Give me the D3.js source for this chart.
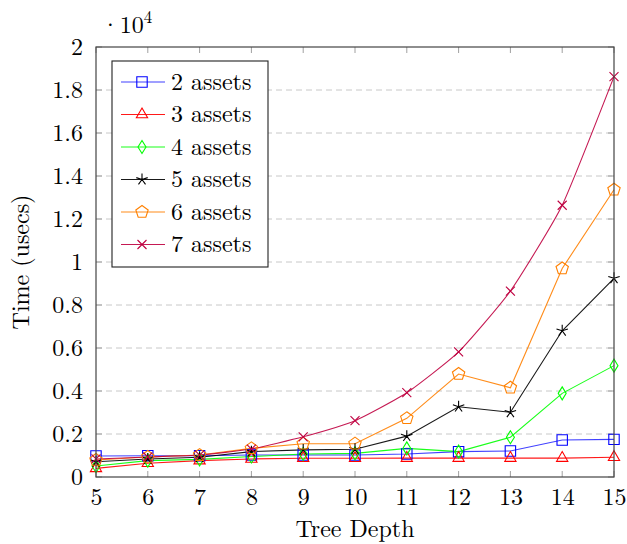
<!DOCTYPE html>
<html><head><meta charset="utf-8">
<script src="https://cdn.jsdelivr.net/npm/d3@7"></script>
<style>body{margin:0;background:#fff}</style>
</head><body><svg id="c" width="627" height="544"></svg>
<script>
const depths = [5,6,7,8,9,10,11,12,13,14,15];
const seriesNames = ["2 assets","3 assets","4 assets","5 assets","6 assets","7 assets"];
const assets2 = [980,990,990,1020,1020,1020,1070,1180,1210,1720,1750];
const assets3 = [400,640,760,840,870,870,880,880,880,880,920];
const assets4 = [510,760,820,950,1070,1100,1330,1180,1850,3890,5180];
const assets5 = [710,840,920,1180,1260,1290,1900,3270,3010,6800,9240];
const assets6 = [790,930,1020,1330,1550,1550,2730,4790,4150,9700,13360];
const assets7 = [840,930,1020,1300,1870,2620,3920,5820,8650,12640,18620];
const yTicks = [0,2000,4000,6000,8000,10000,12000,14000,16000,18000,20000];
const yTickLabels = ["0","0.2","0.4","0.6","0.8","1","1.2","1.4","1.6","1.8","2"];
const colors = ["#0000ff","#ff0000","#00ff00","#000000","#ff8000","#bf0040"];
const markers = ["square","triangle","diamond","star","pentagon","cross"];
const smooth = [false,false,false,false,false,true];
const allSeries = [assets2,assets3,assets4,assets5,assets6,assets7];

const FONT = '"Latin Modern Roman","Liberation Serif",serif';
const svg = d3.select("#c");
const L=96,R=614,T=47,B=477;
const x = d3.scaleLinear().domain([5,15]).range([L,R]);
const y = d3.scaleLinear().domain([0,20000]).range([B,T]);

// grid
svg.append("g").selectAll("line").data(yTicks.slice(1,-1)).join("line")
  .attr("x1",L).attr("x2",R).attr("y1",d=>y(d)).attr("y2",d=>y(d))
  .attr("stroke","#c8c8c8").attr("stroke-width",1).attr("stroke-dasharray","6,4");

// ticks inside (all four sides)
const tk = svg.append("g").attr("stroke","#a0a0a0").attr("stroke-width",1);
depths.forEach(d=>{
  tk.append("line").attr("x1",x(d)).attr("x2",x(d)).attr("y1",B).attr("y2",B-6);
  tk.append("line").attr("x1",x(d)).attr("x2",x(d)).attr("y1",T).attr("y2",T+6);
});
yTicks.forEach(d=>{
  tk.append("line").attr("x1",L).attr("x2",L+6).attr("y1",y(d)).attr("y2",y(d));
  tk.append("line").attr("x1",R).attr("x2",R-6).attr("y1",y(d)).attr("y2",y(d));
});

// axes labels via d3 axes (no lines)
const xAxis = svg.append("g").attr("transform",`translate(0,${B})`)
  .call(d3.axisBottom(x).tickValues(depths).tickFormat(d3.format("d")).tickSize(0).tickPadding(0));
xAxis.select(".domain").remove();
xAxis.selectAll("text").attr("dy",null).attr("y",28).style("font-family",FONT).style("font-size","24px").attr("fill","#000");
const yAxis = svg.append("g").attr("transform",`translate(${L},0)`)
  .call(d3.axisLeft(y).tickValues(yTicks).tickFormat((d,i)=>yTickLabels[i]).tickSize(0).tickPadding(0));
yAxis.select(".domain").remove();
yAxis.selectAll("text").attr("x",-13).attr("dy","0.33em").style("font-family",FONT).style("font-size","24px").attr("fill","#000");

// multiplier
const mult = svg.append("text").attr("x",101).attr("y",33).style("font-family",FONT).style("font-size","24px");
mult.append("tspan").text("·10");
mult.append("tspan").attr("dy",-10).style("font-size","17px").text("4");

svg.append("text").attr("x",(L+R)/2).attr("y",537).attr("text-anchor","middle").style("font-family",FONT).style("font-size","24px").text("Tree Depth");
svg.append("text").attr("transform",`translate(29,${(T+B)/2}) rotate(-90)`).attr("text-anchor","middle").style("font-family",FONT).style("font-size","24px").text("Time (usecs)");

function markerPath(type,cx,cy){
  const p = d3.path();
  if(type==="square"){ const s=5.2; p.rect(cx-s,cy-s,2*s,2*s); }
  else if(type==="triangle"){ const r=6.5; p.moveTo(cx,cy-r); p.lineTo(cx+r*0.866,cy+r*0.5); p.lineTo(cx-r*0.866,cy+r*0.5); p.closePath(); }
  else if(type==="diamond"){ p.moveTo(cx,cy-6.5); p.lineTo(cx+4,cy); p.lineTo(cx,cy+6.5); p.lineTo(cx-4,cy); p.closePath(); }
  else if(type==="star"){ const r=6; for(let k=0;k<5;k++){const a=-Math.PI/2+k*2*Math.PI/5; p.moveTo(cx,cy); p.lineTo(cx+r*Math.cos(a),cy+r*Math.sin(a));} }
  else if(type==="pentagon"){ const r=6.5; for(let k=0;k<5;k++){const a=-Math.PI/2+k*2*Math.PI/5; const px=cx+r*Math.cos(a),py=cy+r*Math.sin(a); if(k===0)p.moveTo(px,py); else p.lineTo(px,py);} p.closePath(); }
  else if(type==="cross"){ const s=4.5; p.moveTo(cx-s,cy-s); p.lineTo(cx+s,cy+s); p.moveTo(cx-s,cy+s); p.lineTo(cx+s,cy-s); }
  return p.toString();
}

const plot = svg.append("g");
allSeries.forEach((vals,si)=>{
  const line = d3.line().x((d,i)=>x(depths[i])).y(d=>y(d))
    .curve(smooth[si] ? d3.curveCardinal.tension(0.5) : d3.curveLinear);
  plot.append("path").attr("d",line(vals)).attr("fill","none").attr("stroke",colors[si]).attr("stroke-width",1.1).attr("stroke-opacity",si===0?0.75:0.9);
});
allSeries.forEach((vals,si)=>{
  plot.append("g").selectAll("path").data(vals).join("path")
    .attr("d",(d,i)=>markerPath(markers[si],x(depths[i]),y(d)))
    .attr("fill","none").attr("stroke",colors[si]).attr("stroke-width",1.1);
});

// frame
svg.append("rect").attr("x",L).attr("y",T).attr("width",R-L).attr("height",B-T)
  .attr("fill","none").attr("stroke","#444").attr("stroke-width",1.2);

// legend
const lg = svg.append("g");
lg.append("rect").attr("x",112).attr("y",61).attr("width",156).attr("height",206)
  .attr("fill","#fff").attr("stroke","#222").attr("stroke-width",1.1);
seriesNames.forEach((n,i)=>{
  const cy = 82 + i*32.5;
  lg.append("line").attr("x1",121).attr("x2",165).attr("y1",cy).attr("y2",cy).attr("stroke",colors[i]).attr("stroke-width",1.1).attr("stroke-opacity",i===0?0.75:0.9);
  lg.append("path").attr("d",markerPath(markers[i],142,cy)).attr("fill","none").attr("stroke",colors[i]).attr("stroke-width",1.1);
  lg.append("text").attr("x",171).attr("y",cy).attr("dy","0.33em").style("font-family",FONT).style("font-size","24px").text(n);
});
</script></body></html>
